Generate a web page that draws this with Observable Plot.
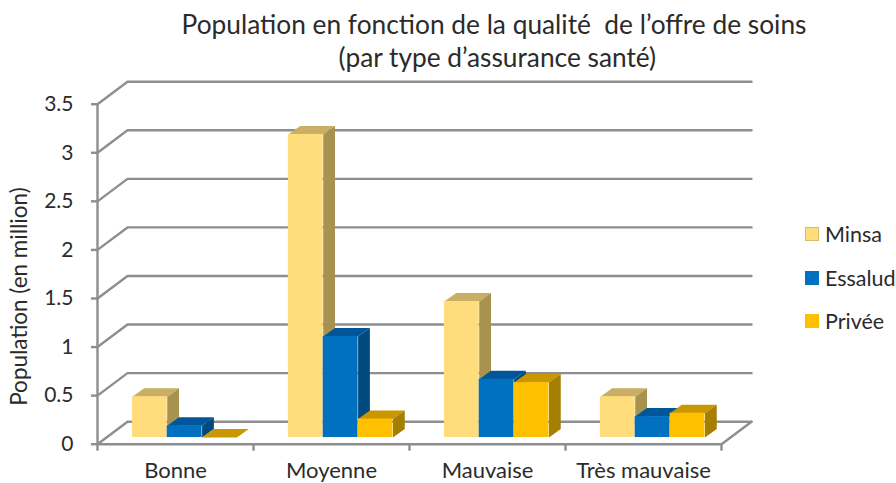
<!DOCTYPE html>
<html><head><meta charset="utf-8">
<script src="https://cdn.jsdelivr.net/npm/d3@7"></script>
<script src="https://cdn.jsdelivr.net/npm/@observablehq/plot@0.6"></script>
<style>
html,body{margin:0;padding:0;background:#fff;overflow:hidden}
body{width:896px;height:483px;position:relative;font-family:Lato,sans-serif;color:#2b2b2b}
#title{height:78px;box-sizing:border-box;padding:8px 0 0 92px;text-align:center;font-size:26.3px;line-height:33px;white-space:pre}
#chart svg{display:block;overflow:visible}
.leg{position:absolute;left:805px;font-size:21.5px;line-height:24px;display:flex;align-items:center;height:24px}
.leg i{display:block;width:14px;height:14px;margin-right:6px;box-sizing:border-box}
</style></head><body>
<div id="title">Population en fonction de la qualité  de l’offre de soins
 (par type d’assurance santé)</div>
<div id="chart"></div>
<script>
const categories = ["Bonne", "Moyenne", "Mauvaise", "Très mauvaise"];
const minsa = [0.42, 3.12, 1.40, 0.42];
const essalud = [0.12, 1.04, 0.60, 0.215];
const privee = [0.0, 0.19, 0.565, 0.25];
const seriesNames = ["Minsa", "Essalud", "Privée"];
const seriesValues = [minsa, essalud, privee];
const frontColors = ["#FFDC7C", "#0070C0", "#FFC000"];
const topColors = ["#C9AF63", "#005698", "#C99700"];
const sideColors = ["#A8924F", "#004A80", "#A67F00"];
const yTicks = [0, 0.5, 1, 1.5, 2, 2.5, 3, 3.5];
const gridColor = "#8E8E8E";
const textColor = "#2b2b2b";

// Depth of the pseudo-3D box and of the bars, in data units
const wallDX = 0.1923, wallDY = 0.2316;
const barDX = 0.0755, barDY = 0.0875;
const barStart = 0.2235, barWidth = 0.2235, barBase = 0.069;

const marks = [];
// walls and floor
for (const v of yTicks) {
  marks.push(Plot.line([[0, v], [wallDX, v + wallDY], [4 + wallDX, v + wallDY]], {stroke: gridColor, strokeWidth: 2.4}));
}
marks.push(Plot.line([[0, 0], [0, 3.5]], {stroke: gridColor, strokeWidth: 2.4}));
marks.push(Plot.line([[0, 0], [4, 0], [4 + wallDX, wallDY]], {stroke: gridColor, strokeWidth: 2.4}));

// bars: top, side, then front, left to right
categories.forEach((c, i) => {
  seriesValues.forEach((vals, s) => {
    const v = vals[i] + barBase;
    const x1 = i + barStart + s * barWidth, x2 = x1 + barWidth;
    marks.push(Plot.line([[x1, v], [x1 + barDX, v + barDY], [x2 + barDX, v + barDY], [x2, v]], {fill: topColors[s], stroke: "none"}));
    marks.push(Plot.line([[x2, barBase], [x2 + barDX, barBase + barDY], [x2 + barDX, v + barDY], [x2, v]], {fill: sideColors[s], stroke: "none"}));
    marks.push(Plot.rect([{x1, x2, y1: barBase, y2: v}], {x1: "x1", x2: "x2", y1: "y1", y2: "y2", fill: frontColors[s]}));
  });
});

marks.push(Plot.axisY({ticks: yTicks, tickSize: 6, tickPadding: 18, tickFormat: d => String(d), label: null, stroke: gridColor, strokeWidth: 2.4, color: textColor, fontSize: 21}));
marks.push(Plot.axisX({ticks: [0, 1, 2, 3, 4], tickSize: 7, tickFormat: () => "", label: null, stroke: gridColor, strokeWidth: 2.4}));
marks.push(Plot.axisX({ticks: categories.map((_, i) => i + 0.5), tickSize: 0, tickPadding: 18, tickFormat: d => categories[d - 0.5], label: null, color: textColor, fontSize: 22}));
marks.push(Plot.text(["Population (en million)"], {x: -0.495, y: 1.52, text: d => d, rotate: -90, fontSize: 22.5, fill: textColor}));

const plot = Plot.plot({
  width: 896, height: 405,
  marginTop: 25.7, marginBottom: 39.3, marginLeft: 97, marginRight: 175,
  x: {domain: [0, 4], axis: null},
  y: {domain: [0, 3.5], axis: null},
  style: {background: "transparent", fontFamily: "Lato, sans-serif", overflow: "visible"},
  marks
});
document.getElementById("chart").append(plot);

const legendY = [222, 266, 309];
seriesNames.forEach((n, s) => {
  const d = document.createElement("div");
  d.className = "leg";
  d.style.top = legendY[s] + "px";
  const sw = document.createElement("i");
  sw.style.background = frontColors[s];
  if (s === 0) sw.style.border = "1px solid #D8BC6C";
  d.append(sw, n);
  document.body.append(d);
});
</script>
</body></html>
